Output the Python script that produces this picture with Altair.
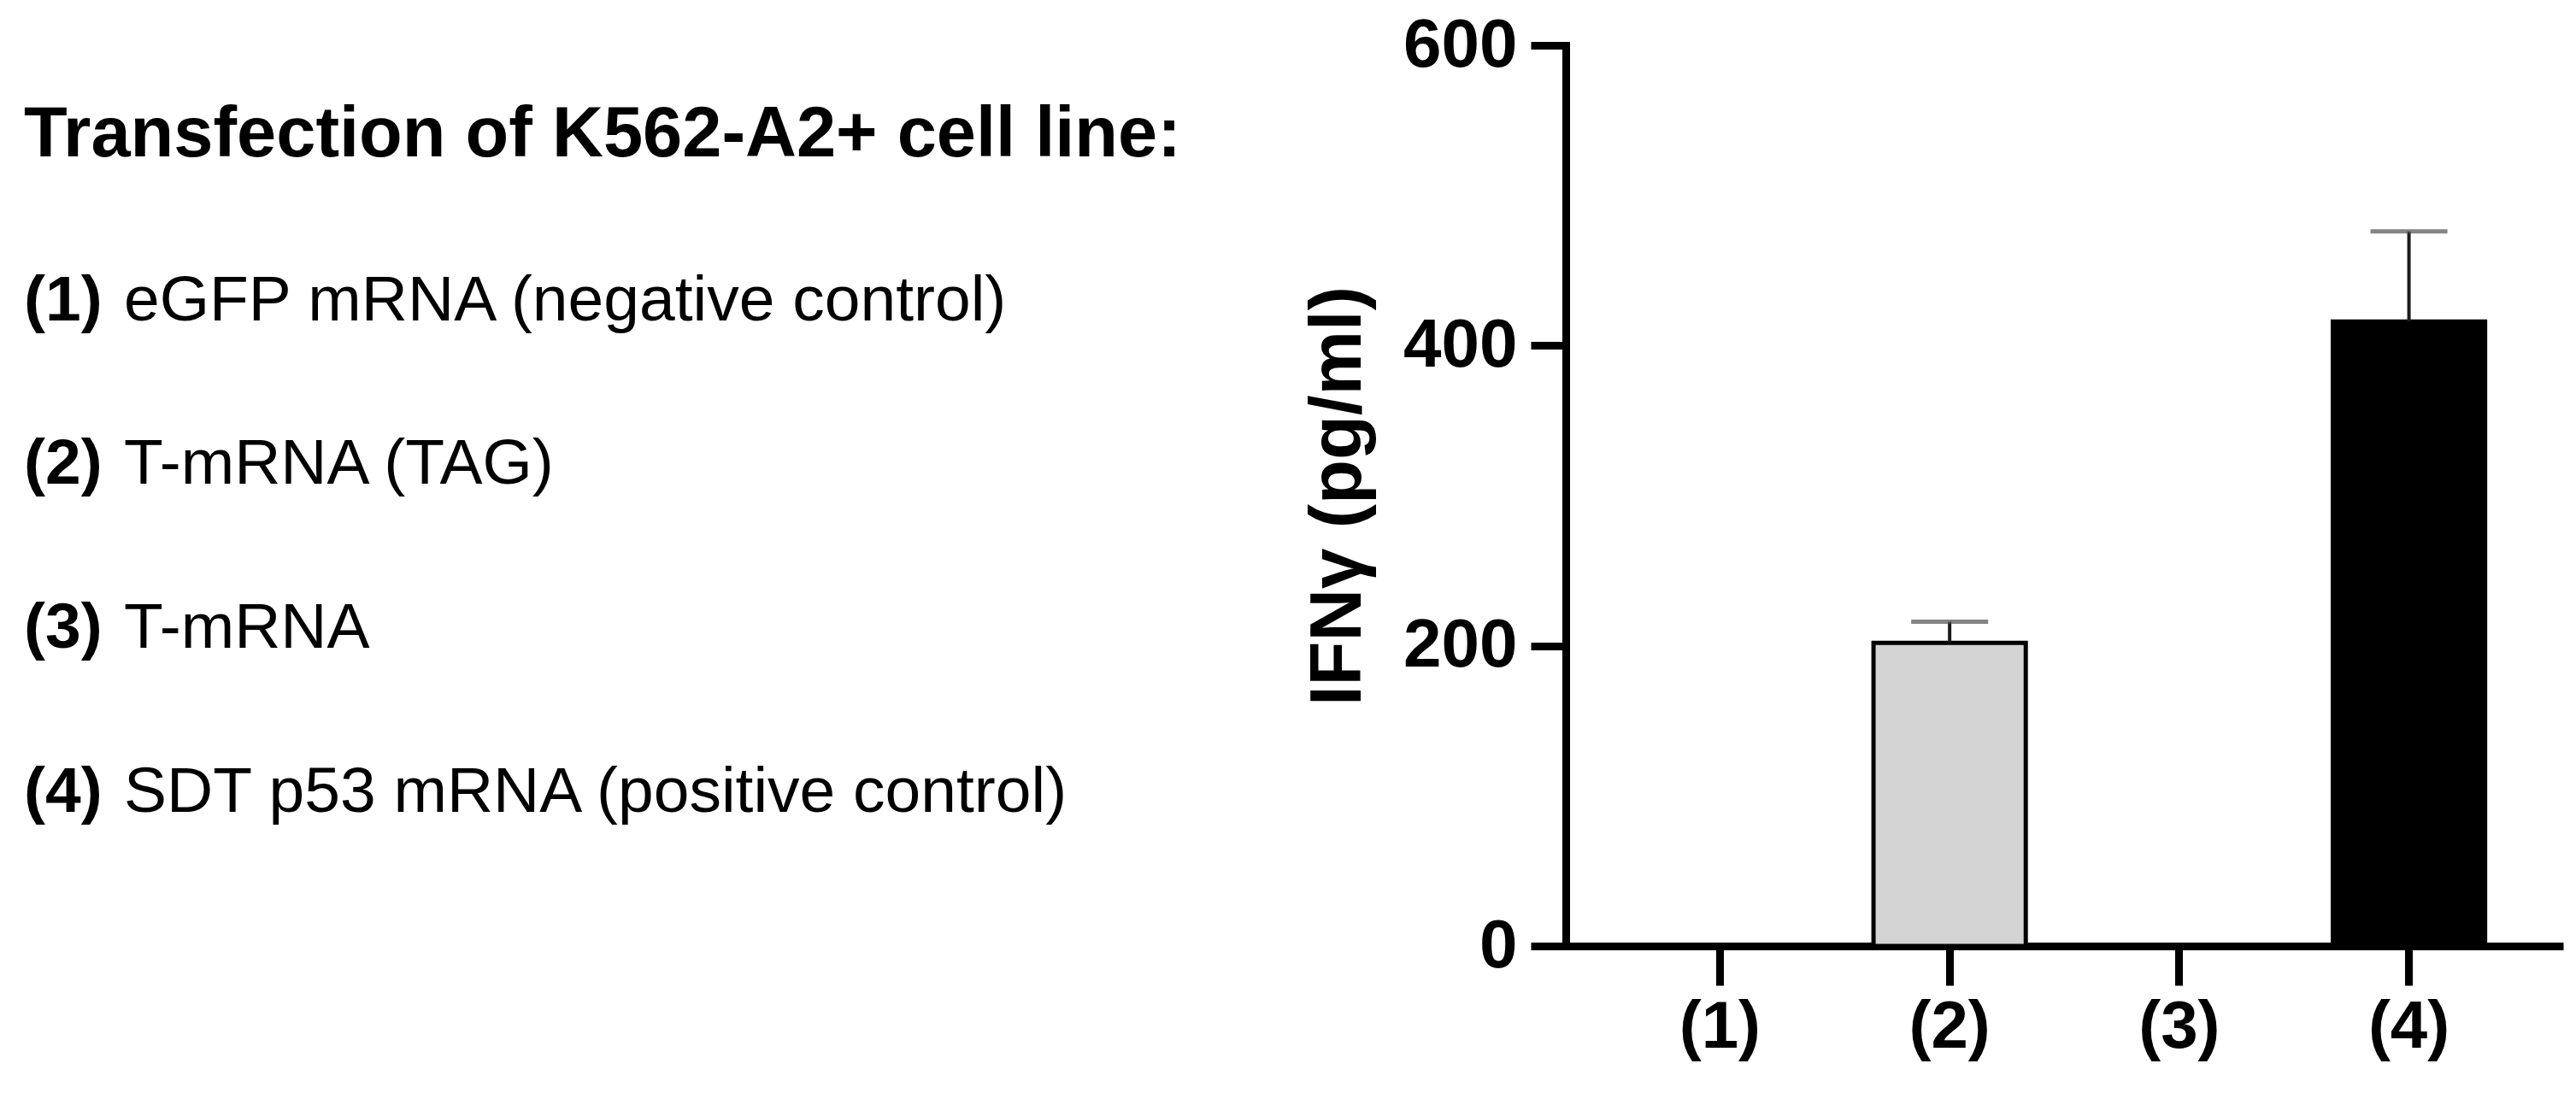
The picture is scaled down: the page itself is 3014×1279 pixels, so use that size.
import altair as alt
import pandas as pd

# ---- data ----
groups = ["(1)", "(2)", "(3)", "(4)"]
means = [0, 202, 0, 416]
sds = [0, 14, 0, 60]
fills = ["#ffffff", "#d4d4d4", "#ffffff", "#000000"]

legend_title = "Transfection of K562-A2+ cell line:"
legend_keys = ["(1)", "(2)", "(3)", "(4)"]
legend_texts = [
    "eGFP mRNA (negative control)",
    "T-mRNA (TAG)",
    "T-mRNA",
    "SDT p53 mRNA (positive control)",
]

y_ticks = [0, 200, 400, 600]
y_title = "IFN\u03b3 (pg/ml)"

FONT = "Liberation Sans"

bars_df = pd.DataFrame({
    "group": groups,
    "mean": means,
    "sd": sds,
    "upper": [m + s for m, s in zip(means, sds)],
})
err_df = bars_df[bars_df["sd"] > 0]

# ---- bar chart ----
x_enc = alt.X(
    "group:N",
    sort=groups,
    scale=alt.Scale(paddingInner=0.337, paddingOuter=0.34),
    axis=alt.Axis(
        tickSize=46, tickWidth=9, tickColor="black",
        domainColor="black", domainWidth=9,
        labelAngle=0, labelFont=FONT, labelFontSize=78, labelFontWeight="bold",
        labelColor="black", labelPadding=10,
    ),
    title=None,
)
y_scale = alt.Scale(domain=[0, 600], nice=False, zero=True)
y_axis = alt.Axis(
    values=y_ticks, tickSize=41, tickWidth=9, tickColor="black",
    domainColor="black", domainWidth=9, domainCap="square",
    labelFont=FONT, labelFontSize=80, labelFontWeight="bold", labelColor="black",
    labelPadding=16, grid=False,
    titleFont=FONT, titleFontSize=85, titleFontWeight="bold", titleColor="black",
    titlePadding=32,
)

bars = alt.Chart(bars_df).mark_bar(stroke="black", strokeWidth=5).encode(
    x=x_enc,
    y=alt.Y("mean:Q", scale=y_scale, axis=y_axis, title=y_title),
    fill=alt.Fill("group:N", scale=alt.Scale(domain=groups, range=fills), legend=None),
)
stems = alt.Chart(err_df).mark_rule(color="#1a1a1a", strokeWidth=4).encode(
    x=alt.X("group:N", sort=groups),
    y=alt.Y("mean:Q"),
    y2="upper:Q",
)
caps = alt.Chart(err_df).mark_tick(color="#505050", thickness=5, size=90, orient="horizontal").encode(
    x=alt.X("group:N", sort=groups),
    y=alt.Y("upper:Q"),
)
bar_chart = alt.layer(bars, stems, caps).properties(width=1167, height=1054)

# ---- legend text panel ----
line_scale = alt.Scale(domain=[-0.678, 4.819], reverse=True, nice=False, zero=False)
title_df = pd.DataFrame({"line": [0], "label": [legend_title]})
items_df = pd.DataFrame({
    "line": list(range(1, len(legend_keys) + 1)),
    "key": legend_keys,
    "desc": legend_texts,
})

t_title = alt.Chart(title_df).mark_text(
    align="left", baseline="alphabetic", font=FONT, fontSize=83,
    fontWeight="bold", color="black",
).encode(
    x=alt.value(0),
    y=alt.Y("line:Q", scale=line_scale, axis=None),
    text="label:N",
)
t_keys = alt.Chart(items_df).mark_text(
    align="left", baseline="alphabetic", font=FONT, fontSize=75,
    fontWeight="bold", color="black",
).encode(
    x=alt.value(0),
    y=alt.Y("line:Q", scale=line_scale, axis=None),
    text="key:N",
)
t_desc = alt.Chart(items_df).mark_text(
    align="left", baseline="alphabetic", font=FONT, fontSize=75,
    fontWeight="normal", color="black", dx=117,
).encode(
    x=alt.value(0),
    y=alt.Y("line:Q", scale=line_scale, axis=None),
    text="desc:N",
)
text_panel = alt.layer(t_title, t_keys, t_desc).properties(width=1495, height=1054)

chart = (
    alt.hconcat(text_panel, bar_chart, spacing=0)
    .properties(padding={"left": 20, "top": 5, "right": 5, "bottom": 5}, background="white")
    .configure_view(strokeWidth=0)
)

chart.save("out.html", embed_options={"renderer": "svg", "actions": False})
